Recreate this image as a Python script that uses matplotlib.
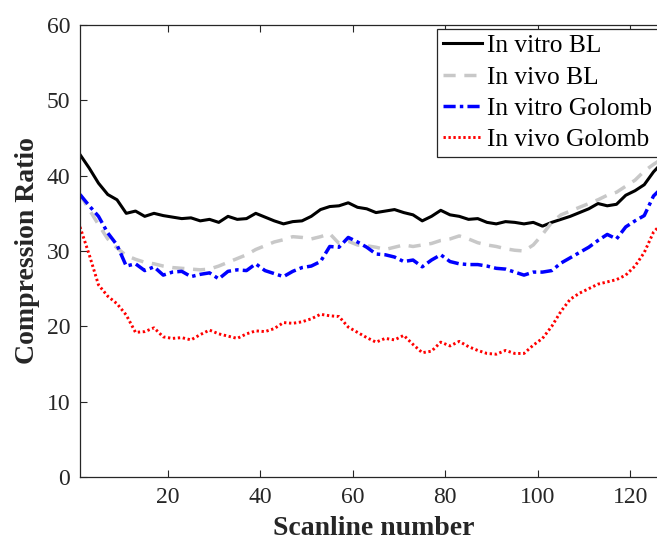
import numpy as np
import matplotlib
matplotlib.use("Agg")
import matplotlib.pyplot as plt

plt.rcParams['font.family'] = ['Liberation Serif', 'DejaVu Serif']

scanline = list(range(1, 128, 2))

in_vitro_bl = [42.8, 41.0, 39.0, 37.5, 36.8, 35.0, 35.3, 34.6, 35.0, 34.7,
               34.5, 34.3, 34.4, 34.0, 34.2, 33.8, 34.6, 34.2, 34.3, 35.0,
               34.5, 34.0, 33.6, 33.9, 34.0, 34.6, 35.5, 35.9, 36.0, 36.4,
               35.8, 35.6, 35.1, 35.3, 35.5, 35.1, 34.8, 34.0, 34.6, 35.4,
               34.8, 34.6, 34.2, 34.3, 33.8, 33.6, 33.9, 33.8, 33.6, 33.8,
               33.3, 33.8, 34.2, 34.6, 35.1, 35.6, 36.3, 36.0, 36.2, 37.4,
               38.0, 38.8, 40.5, 41.8]

in_vivo_bl = [37.5, 35.5, 33.5, 31.6, 30.4, 29.4, 28.9, 28.5, 28.3, 28.0,
              27.8, 27.7, 27.6, 27.5, 27.6, 28.0, 28.5, 29.0, 29.5, 30.2,
              30.7, 31.2, 31.5, 31.9, 31.8, 31.6, 31.9, 32.3, 31.0, 31.3,
              30.8, 30.7, 30.5, 30.2, 30.5, 30.8, 30.6, 30.8, 31.0, 31.4,
              31.6, 32.0, 31.6, 31.1, 30.8, 30.6, 30.3, 30.1, 30.0, 30.8,
              32.2, 33.8, 34.8, 35.3, 35.8, 36.3, 36.8, 37.4, 37.8, 38.6,
              39.4, 40.6, 41.5, 42.3]

in_vitro_golomb = [37.5, 36.0, 34.6, 32.4, 30.8, 28.0, 28.3, 27.4, 27.9, 26.8,
                   27.2, 27.3, 26.6, 26.9, 27.1, 26.3, 27.3, 27.5, 27.4, 28.3,
                   27.4, 27.0, 26.6, 27.3, 27.8, 28.0, 28.6, 30.6, 30.5, 31.8,
                   31.2, 30.5, 29.6, 29.5, 29.2, 28.6, 28.8, 27.9, 28.8, 29.5,
                   28.6, 28.3, 28.2, 28.2, 28.0, 27.7, 27.6, 27.2, 26.8, 27.2,
                   27.2, 27.4, 28.4, 29.1, 29.8, 30.5, 31.4, 32.2, 31.6, 33.2,
                   34.0, 34.7, 37.3, 38.5]

in_vivo_golomb = [33.2, 29.5, 25.5, 24.0, 23.0, 21.5, 19.2, 19.3, 19.8, 18.6,
                  18.4, 18.5, 18.2, 18.9, 19.5, 19.0, 18.7, 18.4, 19.0, 19.4,
                  19.3, 19.7, 20.5, 20.4, 20.6, 21.0, 21.6, 21.4, 21.3, 19.9,
                  19.2, 18.5, 17.9, 18.4, 18.2, 18.8, 17.6, 16.5, 16.7, 17.9,
                  17.4, 18.0, 17.3, 16.8, 16.4, 16.3, 16.8, 16.4, 16.4, 17.5,
                  18.4, 20.0, 22.0, 23.6, 24.4, 25.0, 25.6, 25.9, 26.2, 26.8,
                  28.0, 29.8, 32.5, 33.8]

labels = ["In vitro BL", "In vivo BL", "In vitro Golomb", "In vivo Golomb"]
xticks = [20, 40, 60, 80, 100, 120]
yticks = [0, 10, 20, 30, 40, 50, 60]

W, H = 657, 545
fig = plt.figure(figsize=(W / 100, H / 100), dpi=100)
ax = fig.add_axes([80 / W, 1 - 477 / H, 127 * 4.625 / W, 452 / H])

ax.plot(scanline, in_vitro_bl, color='black', lw=2.2, ls='-', label=labels[0])
ax.plot(scanline, in_vivo_bl, color='#c8c8c8', lw=2.5, ls=(0, (3.5, 2.5)), label=labels[1])
ax.plot(scanline, in_vitro_golomb, color='#0000ff', lw=2.5, ls=(0, (3.5, 1.2, 1.0, 1.2)), label=labels[2])
ax.plot(scanline, in_vivo_golomb, color='#ff0000', lw=2.1, ls=(0, (0.8, 0.9)), label=labels[3])

ax.set_xlim(1, 128)
ax.set_ylim(0, 60)
ax.set_xticks(xticks)
ax.set_yticks(yticks)
ax.tick_params(direction='in', length=5, width=0.8, colors='#262626',
               labelsize=17, pad=7, top=True, right=True)
for s in ax.spines.values():
    s.set_color('#262626')
    s.set_linewidth(0.9)

ax.set_xlabel('Scanline number', fontsize=20, fontweight='bold', color='#262626', labelpad=6)
ax.set_ylabel('Compression Ratio', fontsize=20, fontweight='bold', color='#262626', labelpad=5)

leg = ax.legend(loc='upper left', bbox_to_anchor=(437 / W, 1 - 29 / H),
                bbox_transform=fig.transFigure, borderaxespad=0,
                fontsize=18.3, frameon=True, fancybox=False, shadow=False,
                handlelength=1.55, handletextpad=0.2, labelspacing=0.33,
                borderpad=0.22)
leg.get_frame().set_edgecolor('#262626')
leg.get_frame().set_linewidth(0.9)
leg.get_frame().set_alpha(1)

fig.savefig('out.png', dpi=100)
